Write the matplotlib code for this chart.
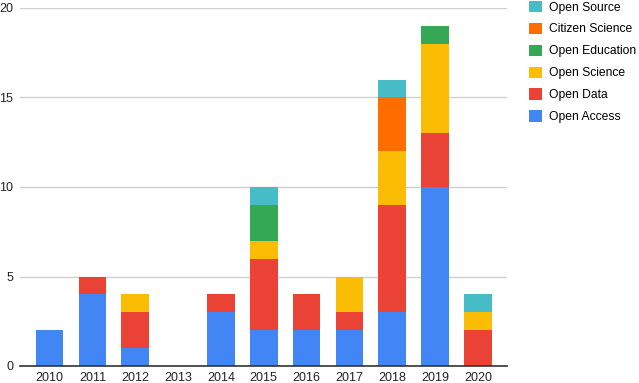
import numpy as np
import matplotlib.pyplot as plt
from matplotlib.patches import Patch

# Daten
years = ['2010', '2011', '2012', '2013', '2014', '2015', '2016', '2017', '2018', '2019', '2020']
open_access = [2, 4, 1, 0, 3, 2, 2, 2, 3, 10, 0]
open_data = [0, 1, 2, 0, 1, 4, 2, 1, 6, 3, 2]
open_science = [0, 0, 1, 0, 0, 1, 0, 2, 3, 5, 1]
open_education = [0, 0, 0, 0, 0, 2, 0, 0, 0, 1, 0]
citizen_science = [0, 0, 0, 0, 0, 0, 0, 0, 3, 0, 0]
open_source = [0, 0, 0, 0, 0, 1, 0, 0, 1, 0, 1]

series = [
    ('Open Access', open_access, '#4285F4'),
    ('Open Data', open_data, '#EA4335'),
    ('Open Science', open_science, '#FBBC04'),
    ('Open Education', open_education, '#34A853'),
    ('Citizen Science', citizen_science, '#FF6D01'),
    ('Open Source', open_source, '#46BDC6'),
]

plt.rcParams['font.family'] = ['Liberation Sans', 'DejaVu Sans']

fig = plt.figure(figsize=(6.39, 3.83), dpi=100)
ax = fig.add_axes([20 / 639, 1 - 366 / 383, 487 / 639, 358 / 383])

x = np.arange(len(years))
bottom = np.zeros(len(years))
for name, vals, color in series:
    vals = np.array(vals, dtype=float)
    ax.bar(x, vals, bottom=bottom, width=0.645, color=color, linewidth=0, zorder=3)
    bottom += vals

ax.set_xlim(-0.69, 10.68)
ax.set_ylim(0, 20)
ax.set_yticks([0, 5, 10, 15, 20])
ax.set_xticks(x)
ax.set_xticklabels(years)
ax.tick_params(axis='both', length=0, labelsize=9, colors='#222222')
ax.tick_params(axis='y', pad=5)
ax.tick_params(axis='x', pad=4)
ax.yaxis.grid(True, color='#d0d0d0', linewidth=1, zorder=0)
for s in ['top', 'right', 'left']:
    ax.spines[s].set_visible(False)
ax.spines['bottom'].set_color('#333333')
ax.spines['bottom'].set_linewidth(1.2)
ax.spines['bottom'].set_zorder(4)

handles = [Patch(facecolor=c, edgecolor='none', label=n) for n, v, c in series][::-1]
fig.legend(handles=handles, loc='upper left', bbox_to_anchor=(524 / 639, 1 + 4 / 383),
           frameon=False, fontsize=8.7, handlelength=1.05, handleheight=1.05,
           handletextpad=0.6, labelspacing=0.76, borderaxespad=0)

fig.savefig('out.png', dpi=100)
